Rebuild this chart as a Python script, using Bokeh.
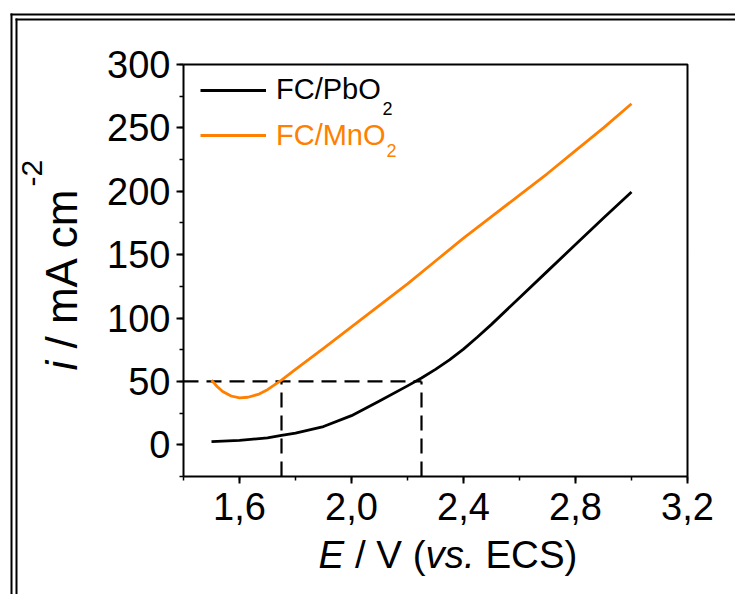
import math
from bokeh.plotting import figure
from bokeh.models import (Range1d, FixedTicker, CustomJSTickFormatter, Legend,
                          LegendItem, Label, BoxAnnotation)
from bokeh.embed import file_html
from bokeh.resources import INLINE

# ---- data ----
pbo2_E = [1.50, 1.60, 1.70, 1.75, 1.80, 1.90, 2.00, 2.10, 2.20, 2.25, 2.30,
          2.35, 2.40, 2.45, 2.50, 2.60, 2.70, 2.80, 2.90, 3.00]
pbo2_i = [2.5, 3.5, 5.5, 7.5, 9.3, 14.4, 23.0, 34.5, 46.5, 52.7, 59.5,
          67.0, 75.5, 85.0, 95.0, 116.0, 137.0, 158.0, 179.0, 199.5]

mno2_E = [1.50, 1.52, 1.54, 1.57, 1.60, 1.63, 1.67, 1.70, 1.75, 1.80, 1.90,
          2.00, 2.10, 2.20, 2.30, 2.40, 2.50, 2.60, 2.70, 2.80, 2.90, 3.00]
mno2_i = [51.0, 46.0, 42.0, 38.5, 37.0, 37.5, 40.0, 43.5, 51.0, 59.5, 76.0,
          93.0, 110.0, 127.0, 145.0, 163.0, 180.0, 197.0, 214.0, 232.0, 250.0, 269.0]

guide_E = [1.75, 2.25]   # potentials read at i = 50 mA cm-2
guide_i = 50.0

x_major = [1.6, 2.0, 2.4, 2.8, 3.2]
x_minor = [1.4, 1.6, 1.8, 2.0, 2.2, 2.4, 2.6, 2.8, 3.0, 3.2]
y_major = [0, 50, 100, 150, 200, 250, 300]
y_minor = [-25, 0, 25, 50, 75, 100, 125, 150, 175, 200, 225, 250, 275, 300]

FONT = "Liberation Sans"
ORANGE = "#FF8000"

# axis extents
X0, X1 = 1.4, 3.2
Y0, Y1 = -25, 300

# ---- layout (page pixels) ----
W, H = 735, 594
FL, FR, FT, FB = 183, 687, 64, 476   # axes box on the page
kx = (FR - FL) / (X1 - X0)
ky = (FB - FT) / (Y1 - Y0)
xs = X0 - FL / kx
xe = X1 + (W - FR) / kx
ys = Y0 - (H - FB) / ky
ye = Y1 + FT / ky


def dx(px):
    return X0 + (px - FL) / kx


def dy(py):
    return Y0 + (FB - py) / ky


p = figure(width=W, height=H, output_backend="svg", toolbar_location=None,
           x_range=Range1d(xs, xe), y_range=Range1d(ys, ye),
           min_border=0)

p.background_fill_color = "white"
p.border_fill_color = "white"
p.outline_line_color = None
p.grid.visible = False

# double frame around the figure (top and left edges, running off the page)
for (l, r, t, b) in [(10, W + 5, 13, 15), (15, W + 5, 18, 20),
                     (10, 12, 13, H + 5), (15, 17, 18, H + 5)]:
    p.add_layout(BoxAnnotation(left=dx(l), right=dx(r), top=dy(t), bottom=dy(b),
                               fill_color="black", fill_alpha=1.0,
                               line_color=None, level="underlay"))

for ax in (p.xaxis[0], p.yaxis[0]):
    ax.axis_line_width = 2
    ax.major_tick_line_width = 2
    ax.minor_tick_line_width = 1.5
    ax.major_tick_in = 0
    ax.major_tick_out = 7
    ax.minor_tick_in = 0
    ax.minor_tick_out = 4
    ax.major_label_text_font = FONT
    ax.major_label_text_font_size = "38px"
    ax.major_label_text_color = "black"
    ax.major_label_standoff = 6
    ax.axis_label = None

p.xaxis.fixed_location = Y0
p.xaxis.bounds = (X0, X1)
p.yaxis.fixed_location = X0
p.yaxis.bounds = (Y0, Y1)
p.xaxis.ticker = FixedTicker(ticks=x_major, minor_ticks=x_minor)
p.xaxis.formatter = CustomJSTickFormatter(code="return tick.toFixed(1).replace('.', ',');")
p.yaxis.ticker = FixedTicker(ticks=y_major, minor_ticks=y_minor)
p.xaxis.major_label_standoff = 9

# top and right sides of the axes box
p.line([X0, X1, X1], [Y1, Y1, Y0], line_color="black", line_width=2)

# guide dashed lines
p.segment(x0=[X0], y0=[guide_i], x1=[max(guide_E)], y1=[guide_i],
          line_color="black", line_width=2.2, line_dash="15 8")
p.segment(x0=guide_E, y0=[Y0] * len(guide_E), x1=guide_E, y1=[guide_i] * len(guide_E),
          line_color="black", line_width=2.2, line_dash="15 8")

r1 = p.line(pbo2_E, pbo2_i, line_color="black", line_width=2.8, line_join="round")
r2 = p.line(mno2_E, mno2_i, line_color=ORANGE, line_width=2.8, line_join="round")


def sx(px):
    return px


def sy(py):
    return H - py


def mk_legend(r, label, color, center_y):
    lg = Legend(items=[LegendItem(label=label, renderers=[r])],
                location=(sx(200), sy(center_y + 17)),
                padding=0, margin=0, spacing=0, glyph_width=66, glyph_height=34,
                label_height=34, label_standoff=10, label_text_font=FONT,
                label_text_font_size="29px", label_text_color=color,
                border_line_color=None, background_fill_alpha=0)
    p.add_layout(lg, "center")


mk_legend(r1, "FC/PbO", "black", 89.7)
mk_legend(r2, "FC/MnO", ORANGE, 135)


def lab(text, px, py, size, color="black", style="normal", angle=0.0):
    p.add_layout(Label(x=sx(px), y=sy(py), x_units="screen", y_units="screen",
                       text=text, text_font=FONT, text_font_size=size,
                       text_color=color, text_font_style=style,
                       text_baseline="alphabetic", text_align="left",
                       angle=angle))


# legend subscripts
lab("2", 382, 108, "18px")
lab("2", 386, 150, "18px", color=ORANGE)

# x axis label:  E / V (vs. ECS)
lab("E", 318, 554, "38.5px", style="italic")
lab("/ V (", 354.4, 554, "38.5px")
lab("vs.", 425, 554, "38.5px", style="italic")
lab("ECS)", 484.9, 554, "38.5px")

# y axis label:  i / mA cm-2
lab("i", 61, 370, "44px", style="italic", angle=math.pi / 2)
lab("/ mA cm", 61, 348, "44px", angle=math.pi / 2)
lab("-2", 31, 186, "30px", angle=math.pi / 2)

open("out.html", "w").write(file_html(p, INLINE))
